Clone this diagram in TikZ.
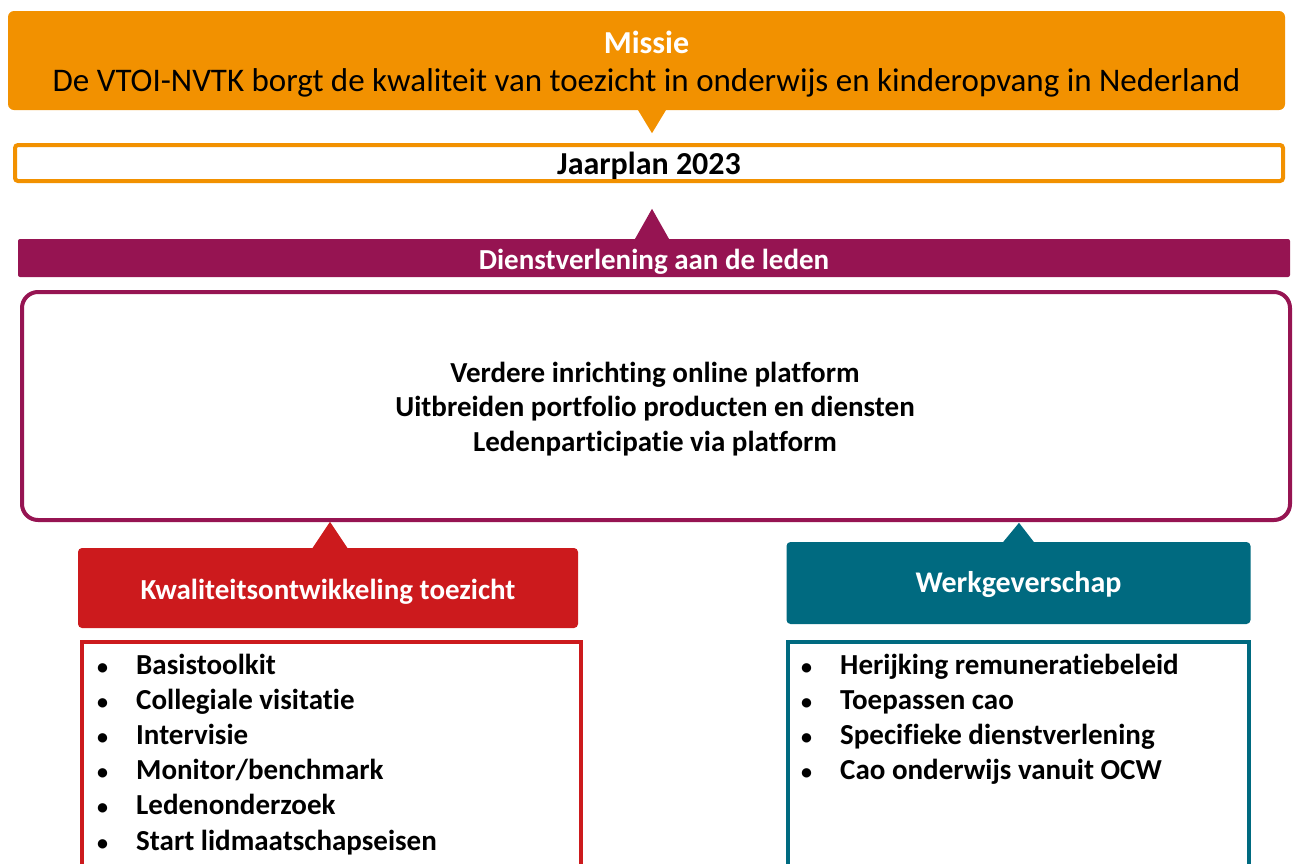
\documentclass[tikz,border=0pt]{standalone}
\usepackage{fontspec}
\setmainfont{Carlito}[Ligatures=NoCommon]
\usetikzlibrary{calc}
\definecolor{vorange}{RGB}{242,145,0}
\definecolor{vpurple}{RGB}{150,20,82}
\definecolor{vred}{RGB}{204,26,29}
\definecolor{vteal}{RGB}{0,106,128}
\tikzset{
  box/.style={inner sep=0pt},
  lbl/.style={inner sep=0pt, align=center},
  listbox/.style={draw, line width=4pt, fill=white, inner sep=0pt},
  listtext/.style={inner sep=0pt, align=left, anchor=base west, font=\fontsize{29}{35.2}\selectfont\bfseries},
}
\newcommand{\itm}[1]{\makebox[39pt][l]{{\fontsize{22}{22}\selectfont•}}#1}
\begin{document}
\begin{tikzpicture}[x=1pt,y=-1pt]
\useasboundingbox (0,0) rectangle (1294,863);
\clip (0,0) rectangle (1294,863);
% Missie
\node[box, fill=vorange, rounded corners=6pt, minimum width=1277pt, minimum height=99pt] (missie) at (646.5,60.5) {};
\node[lbl, font=\fontsize{33}{38}\selectfont] (missietext) at ($(missie.center)+(0,4)$)
  {{\fontsize{32}{38}\selectfont\bfseries\color{white}Missie}\\De VTOI-NVTK borgt de kwaliteit van toezicht in onderwijs en kinderopvang in Nederland};
\fill[vorange] ($(missie.south)+(-9,-1)$) -- ($(missie.south)+(20,-1)$) -- ($(missie.south)+(5.5,23)$) -- cycle;
% Jaarplan
\node[box, draw=vorange, line width=4pt, fill=white, rounded corners=3pt, minimum width=1268pt, minimum height=36pt] (jaar) at (649,163) {};
\node[lbl, font=\fontsize{32}{34}\selectfont\bfseries] (jaartext) at ($(jaar.center)+(0,3)$) {Jaarplan 2023};
% Dienstverlening bar
\node[box, fill=vpurple, rounded corners=2pt, minimum width=1272pt, minimum height=38pt] (dienst) at (654,258) {};
\node[lbl, text=white, font=\fontsize{29}{30}\selectfont\bfseries] (diensttext) at ($(dienst.center)+(0,3.5)$) {Dienstverlening aan de leden};
\fill[vpurple] ($(dienst.north)+(-19.5,1)$) -- ($(dienst.north)+(15.5,1)$) -- ($(dienst.north)+(-2,-30)$) -- cycle;
% Purple content box
\node[box, draw=vpurple, line width=4pt, fill=white, rounded corners=16pt, minimum width=1268pt, minimum height=228pt] (platform) at (656,406) {};
\node[lbl, font=\fontsize{29}{34.5}\selectfont\bfseries] (platformtext) at ($(platform.center)+(-1,3)$)
  {Verdere inrichting online platform\\Uitbreiden portfolio producten en diensten\\Ledenparticipatie via platform};
% Red header
\node[box, fill=vred, rounded corners=4pt, minimum width=500pt, minimum height=80pt] (kwal) at (328,588) {};
\node[lbl, text=white, font=\fontsize{29}{30}\selectfont\bfseries] (kwaltext) at ($(kwal.center)+(0,3.5)$) {Kwaliteitsontwikkeling toezicht};
\fill[vred] ($(kwal.north)+(-16,1)$) -- ($(kwal.north)+(20,1)$) -- ($(kwal.north)+(2,-26)$) -- cycle;
% Red list box
\node[listbox, draw=vred, minimum width=499pt, minimum height=260pt, anchor=north] (kwallist) at (331.5,640) {};
\node[listtext] (kwalitems) at (97,850)
  {\itm{Basistoolkit}\\\itm{Collegiale visitatie}\\\itm{Intervisie}\\\itm{Monitor/benchmark}\\\itm{Ledenonderzoek}\\\itm{Start lidmaatschapseisen}};
% Teal header
\node[box, fill=vteal, rounded corners=4pt, minimum width=464pt, minimum height=82pt] (werk) at (1018.5,583) {};
\node[lbl, text=white, font=\fontsize{30}{32}\selectfont\bfseries] (werktext) at ($(werk.center)+(0,2)$) {Werkgeverschap};
\fill[vteal] ($(werk.north)+(-16,1)$) -- ($(werk.north)+(16,1)$) -- ($(werk.north)+(0.5,-19)$) -- cycle;
% Teal list box
\node[listbox, draw=vteal, minimum width=461pt, minimum height=260pt, anchor=north] (werklist) at (1018,640) {};
\node[listtext] (werkitems) at (801,779.6)
  {\itm{Herijking remuneratiebeleid}\\\itm{Toepassen cao}\\\itm{Specifieke dienstverlening}\\\itm{Cao onderwijs vanuit OCW}};
\end{tikzpicture}
\end{document}
